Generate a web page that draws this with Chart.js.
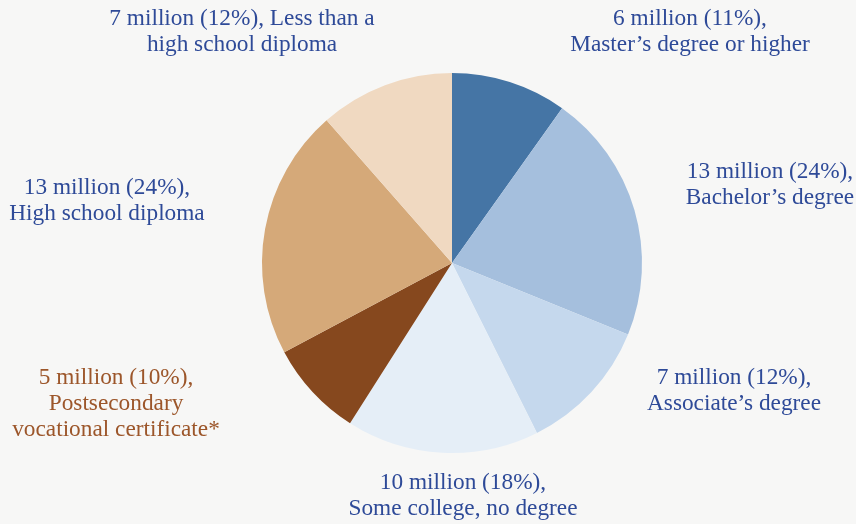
<!DOCTYPE html>
<html>
<head>
<meta charset="utf-8">
<script src="https://cdn.jsdelivr.net/npm/chart.js@4"></script>
<style>
  html, body { margin: 0; padding: 0; background: #f7f7f6; }
  #wrap { width: 856px; height: 524px; }
</style>
</head>
<body>
<div id="wrap"><canvas id="pie" width="856" height="524"></canvas></div>
<script>
// Data (millions of people), clockwise from 12 o'clock
const categories = ['Master\u2019s degree or higher', 'Bachelor\u2019s degree', 'Associate\u2019s degree',
    'Some college, no degree', 'Postsecondary vocational certificate*', 'High school diploma',
    'Less than a high school diploma'];
const millions = [6, 13, 7, 10, 5, 13, 7];
const percents = [11, 24, 12, 18, 10, 24, 12];

const sliceColors = ['#4575a5', '#a5bfdd', '#c5d8ed', '#e5eef7', '#86481e', '#d5a979', '#f0d9c1'];
const blueText = '#2e4a98';
const brownText = '#9c562a';

// label text lines and placement (center x, first line y)
const labelLines = [
    [millions[0] + ' million (' + percents[0] + '%),', 'Master\u2019s degree or higher'],
    [millions[1] + ' million (' + percents[1] + '%),', 'Bachelor\u2019s degree'],
    [millions[2] + ' million (' + percents[2] + '%),', 'Associate\u2019s degree'],
    [millions[3] + ' million (' + percents[3] + '%),', 'Some college, no degree'],
    [millions[4] + ' million (' + percents[4] + '%),', 'Postsecondary', 'vocational certificate*'],
    [millions[5] + ' million (' + percents[5] + '%),', 'High school diploma'],
    [millions[6] + ' million (' + percents[6] + '%), Less than a', 'high school diploma']
];
const labelPos = [
    [690, 19], [770, 172], [734, 378], [463, 483], [116, 378], [107, 188], [242, 19]
];

const outsideLabels = {
    id: 'outsideLabels',
    afterDraw(chart) {
        const ctx = chart.ctx;
        ctx.save();
        ctx.font = '23.3px "Liberation Serif", serif';
        ctx.textAlign = 'center';
        ctx.textBaseline = 'middle';
        labelLines.forEach((lines, i) => {
            ctx.fillStyle = i === 4 ? brownText : blueText;
            const [x, y] = labelPos[i];
            lines.forEach((t, j) => ctx.fillText(t, x, y + j * 26));
        });
        ctx.restore();
    }
};

new Chart(document.getElementById('pie'), {
    type: 'pie',
    data: {
        labels: categories,
        datasets: [{ data: millions, backgroundColor: sliceColors, borderWidth: 0 }]
    },
    options: {
        responsive: false,
        animation: false,
        devicePixelRatio: 1,
        layout: { padding: { top: 73, bottom: 71, left: 262, right: 214 } },
        plugins: { legend: { display: false }, tooltip: { enabled: false } }
    },
    plugins: [outsideLabels]
});
</script>
</body>
</html>
